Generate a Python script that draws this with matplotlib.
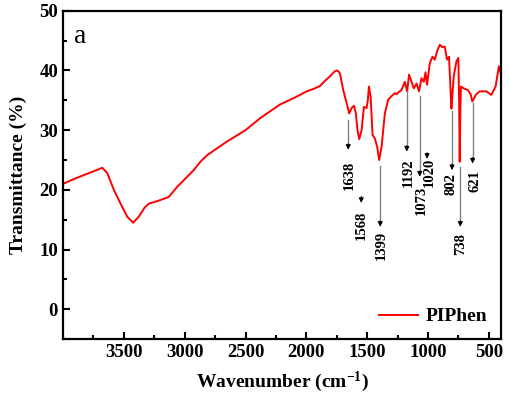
import matplotlib
matplotlib.use("Agg")
import matplotlib.pyplot as plt
from matplotlib.ticker import MultipleLocator

# FTIR spectrum of PIPhen
wavenumber = [4000, 3900, 3800, 3700, 3677, 3636, 3582, 3527, 3472, 3423,
              3377, 3330, 3295, 3226, 3131, 3062, 2926, 2871, 2816, 2652,
              2500, 2380, 2216, 2100, 1997, 1930, 1888, 1840, 1806, 1770,
              1751, 1735, 1724, 1697, 1669, 1648, 1628, 1609, 1593, 1580,
              1566, 1546, 1527, 1505, 1495, 1486, 1472, 1456, 1437, 1418,
              1402, 1382, 1355, 1328, 1300, 1273, 1259, 1246, 1218, 1191,
              1172, 1156, 1136, 1117, 1095, 1074, 1054, 1035, 1021, 1008,
              986, 964, 945, 926, 904, 882, 863, 844, 828, 818,
              808, 800, 789, 767, 751, 745, 740, 735, 730, 707,
              672, 650, 636, 625, 609, 576, 521, 480, 445, 418, 400]
transmittance = [21.0, 21.9, 22.7, 23.5, 23.7, 22.8, 20.0, 17.7, 15.5, 14.5,
                 15.5, 17.0, 17.7, 18.1, 18.8, 20.5, 23.3, 24.7, 25.8, 28.1,
                 30.0, 32.0, 34.3, 35.4, 36.5, 37.0, 37.4, 38.4, 39.0, 39.8,
                 40.0, 39.8, 39.5, 36.7, 34.5, 32.8, 33.7, 34.1, 32.8, 30.0,
                 28.5, 30.0, 33.9, 33.7, 35.0, 37.3, 35.6, 29.2, 28.6, 27.2,
                 25.0, 27.2, 32.8, 35.1, 35.7, 36.2, 36.0, 36.3, 36.7, 38.1,
                 36.5, 39.3, 38.1, 37.0, 37.8, 36.5, 38.7, 38.1, 39.7, 37.6,
                 41.2, 42.3, 41.8, 43.2, 44.3, 43.9, 44.0, 41.8, 42.3, 38.0,
                 33.6, 36.0, 39.0, 41.5, 42.1, 35.0, 24.7, 33.0, 37.3, 37.0,
                 36.7, 36.0, 34.8, 35.2, 35.9, 36.5, 36.5, 35.9, 37.3, 40.7, 39.3]

# peak labels: text, arrow x, arrow top, arrow tip, label x, label y
peak_labels = ["1638", "1568", "1399", "1192", "1073", "1020", "802", "738", "621"]
arrow_x = [1656, 1549, 1393, 1175, 1068, 1008, 803, 735, 634]
arrow_top = [31.7, 18.9, 24.0, 36.5, 35.7, 26.1, 33.2, 23.9, 34.5]
arrow_tip = [26.7, 17.8, 13.8, 26.4, 22.2, 25.2, 23.3, 13.8, 24.4]
label_x = [1650, 1546, 1388, 1166, 1054, 986, 808, 730, 611]
label_y = [22.5, 14.0, 10.7, 22.9, 18.3, 23.0, 21.0, 11.0, 21.5]

serif = "Liberation Serif"
plt.rcParams["mathtext.fontset"] = "custom"
plt.rcParams["mathtext.rm"] = "Liberation Serif:bold"
plt.rcParams["mathtext.bf"] = "Liberation Serif:bold"
plt.rcParams["mathtext.it"] = "Liberation Serif:bold"

fig = plt.figure(figsize=(5.1, 3.98), dpi=100)
ax = fig.add_axes([0.1235, 0.148, 0.859, 0.825])

ax.plot(wavenumber, transmittance, color="#ff0000", lw=1.4, label="PIPhen")

for i in range(len(peak_labels)):
    x = arrow_x[i]
    ax.plot([x, x], [arrow_top[i], arrow_tip[i] + 0.8], color="#808080", lw=1.0)
    ax.annotate("", xy=(x, arrow_tip[i]), xytext=(x, arrow_tip[i] + 1.0),
                arrowprops=dict(arrowstyle="-|>", color="black", lw=0.8,
                                mutation_scale=7, shrinkA=0, shrinkB=0))
    ax.text(label_x[i], label_y[i], peak_labels[i], rotation=90,
            ha="center", va="center", family=serif, fontweight="bold",
            fontsize=10.5)

ax.text(0.025, 0.96, "a", transform=ax.transAxes, ha="left", va="top",
        family=serif, fontsize=20)

ax.set_xlim(4000, 400)
ax.set_ylim(-5, 50)
ax.xaxis.set_major_locator(MultipleLocator(500))
ax.xaxis.set_minor_locator(MultipleLocator(250))
ax.yaxis.set_major_locator(MultipleLocator(10))
ax.yaxis.set_minor_locator(MultipleLocator(5))
ax.set_xticks([3500, 3000, 2500, 2000, 1500, 1000, 500])

ax.tick_params(which="both", direction="in", width=1.5, top=False, right=False)
ax.tick_params(which="major", length=5)
ax.tick_params(which="minor", length=3)
for lab in ax.get_xticklabels() + ax.get_yticklabels():
    lab.set_family(serif)
    lab.set_fontweight("bold")
    lab.set_fontsize(13.5)
for sp in ax.spines.values():
    sp.set_linewidth(1.6)

ax.set_xlabel("Wavenumber (cm$^{\\mathrm{-1}}$)", family=serif, fontweight="bold",
              fontsize=14, labelpad=6)
ax.set_ylabel("Transmittance (%)", family=serif, fontweight="bold",
              fontsize=14, labelpad=9)

leg = ax.legend(loc="lower right", frameon=False, handlelength=2.0,
                prop=dict(family=serif, weight="bold", size=14),
                borderaxespad=0.3, handletextpad=0.4)

fig.savefig("out.png", dpi=100)
